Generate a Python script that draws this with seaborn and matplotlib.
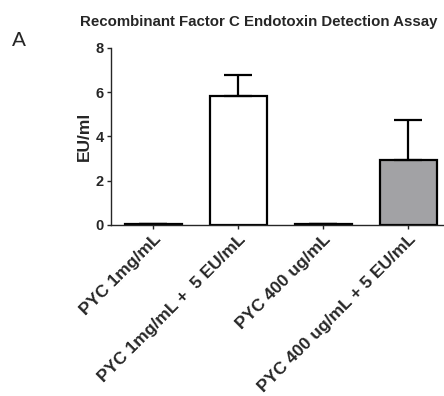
import numpy as np
import matplotlib.pyplot as plt
import seaborn as sns
import pandas as pd

# data
groups = ["PYC 1mg/mL", "PYC 1mg/mL +  5 EU/mL", "PYC 400 ug/mL", "PYC 400 ug/mL + 5 EU/mL"]
means = [0.05, 5.83, 0.04, 2.94]
sem_upper = [0.0, 0.94, 0.0, 1.79]
bar_colors = ["white", "white", "white", "#a2a1a6"]

sns.set_style("ticks")
plt.rcParams["font.family"] = ["Liberation Sans", "DejaVu Sans"]
plt.rcParams["font.weight"] = "bold"

df = pd.DataFrame({"group": groups, "value": means})

fig = plt.figure(figsize=(4.44, 3.96), dpi=100)
ax = fig.add_axes([0.25, 0.432, 0.75, 0.447])
sns.barplot(df, x="group", y="value", hue="group", palette=bar_colors,
            legend=False, errorbar=None, width=0.67, edgecolor="black",
            linewidth=1.6, ax=ax)
ax.errorbar(np.arange(len(groups)), means, yerr=[np.zeros(len(groups)), sem_upper],
            fmt="none", ecolor="black", elinewidth=1.6, capsize=10, capthick=1.6)

ax.set_xlim(-0.5, 3.42)
ax.set_ylim(0, 8)
ax.set_yticks([0, 2, 4, 6, 8])
ax.tick_params(axis="y", labelsize=10.5, width=1, length=3, pad=2)
ax.tick_params(axis="x", labelsize=12.5, width=1, length=3, pad=2)
ax.set_xticks(range(len(groups)))
ax.set_xticklabels(groups, rotation=45, ha="right", rotation_mode="anchor", fontweight="bold")
for lab in ax.get_yticklabels():
    lab.set_fontweight("bold")
ax.set_xlabel("")
ax.set_ylabel("EU/ml", fontsize=12.5, fontweight="bold", labelpad=3)
sns.despine(ax=ax)
ax.spines["left"].set_linewidth(1)
ax.spines["bottom"].set_linewidth(1)

fig.text(0.582, 0.944, "Recombinant Factor C Endotoxin Detection Assay",
         ha="center", va="center", fontsize=10.8, fontweight="bold")
fig.text(0.043, 0.898, "A", ha="center", va="center", fontsize=15, fontweight="normal")

plt.savefig("out.png", dpi=100)
